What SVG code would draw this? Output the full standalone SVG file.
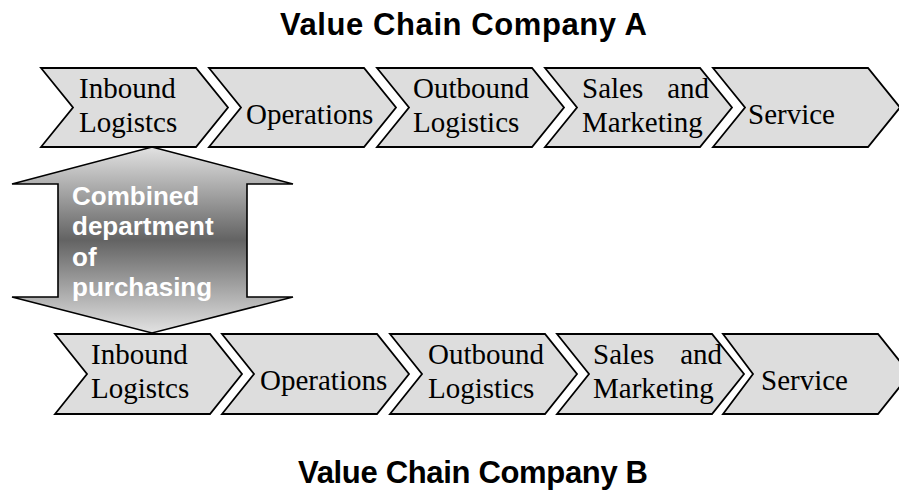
<svg xmlns="http://www.w3.org/2000/svg" width="899" height="490" viewBox="0 0 899 490">
<defs>
<style>
.chev{fill:#dddddd;stroke:#000;stroke-width:1.8;stroke-linejoin:miter}
.t{font-family:"Liberation Serif","Times New Roman",serif;font-size:29px;fill:#000}
.title{font-family:"Liberation Sans",Arial,sans-serif;font-size:31px;font-weight:bold;fill:#000}
.wt{font-family:"Liberation Sans",Arial,sans-serif;font-size:26px;font-weight:bold;fill:#fff}
</style>
<linearGradient id="g" x1="0" y1="0" x2="0" y2="1">
<stop offset="0" stop-color="#e2e2e2"/>
<stop offset="0.5" stop-color="#636363"/>
<stop offset="1" stop-color="#e2e2e2"/>
</linearGradient>
</defs>
<rect width="899" height="490" fill="#fff"/>
<text class="title" x="280" y="35" textLength="367" lengthAdjust="spacing">Value Chain Company A</text>
<text class="title" x="298" y="483" textLength="350" lengthAdjust="spacing">Value Chain Company B</text>

<g id="purchasing">
<polygon points="152,147 293,184 247,184 247,297 293,297 152,333 12,297 58,297 58,184 12,184" fill="url(#g)" stroke="#000" stroke-width="1.6"/>
<text class="wt" x="72" y="205">Combined</text>
<text class="wt" x="72" y="235">department</text>
<text class="wt" x="72" y="266">of</text>
<text class="wt" x="72" y="296">purchasing</text>
</g>

<g id="connectors"></g>

<g id="a-inbound">
<polygon class="chev" points="41,68 196,68 228,107.5 196,147 41,147 73,107.5"/>
<text class="t" x="79" y="98">Inbound</text>
<text class="t" x="79" y="132">Logistcs</text>
</g>
<g id="a-operations">
<polygon class="chev" points="209,68 364,68 396,107.5 364,147 209,147 241,107.5"/>
<text class="t" x="246" y="124">Operations</text>
</g>
<g id="a-outbound">
<polygon class="chev" points="377,68 532,68 564,107.5 532,147 377,147 409,107.5"/>
<text class="t" x="413" y="98">Outbound</text>
<text class="t" x="413" y="132">Logistics</text>
</g>
<g id="a-sales">
<polygon class="chev" points="545,68 700,68 732,107.5 700,147 545,147 577,107.5"/>
<text class="t" x="582" y="98">Sales</text>
<text class="t" x="709" y="98" text-anchor="end">and</text>
<text class="t" x="582" y="132">Marketing</text>
</g>
<g id="a-service">
<polygon class="chev" points="713,68 868,68 900,107.5 868,147 713,147 745,107.5"/>
<text class="t" x="748" y="124">Service</text>
</g>

<g id="b-inbound">
<polygon class="chev" points="55,334 210,334 242,374 210,414 55,414 87,374"/>
<text class="t" x="91" y="364">Inbound</text>
<text class="t" x="91" y="398">Logistcs</text>
</g>
<g id="b-operations">
<polygon class="chev" points="222,334 377,334 409,374 377,414 222,414 254,374"/>
<text class="t" x="260" y="390">Operations</text>
</g>
<g id="b-outbound">
<polygon class="chev" points="390,334 545,334 577,374 545,414 390,414 422,374"/>
<text class="t" x="428" y="364">Outbound</text>
<text class="t" x="428" y="398">Logistics</text>
</g>
<g id="b-sales">
<polygon class="chev" points="557,334 712,334 744,374 712,414 557,414 589,374"/>
<text class="t" x="593" y="364">Sales</text>
<text class="t" x="722" y="364" text-anchor="end">and</text>
<text class="t" x="593" y="398">Marketing</text>
</g>
<g id="b-service">
<polygon class="chev" points="723,334 878,334 910,374 878,414 723,414 753,374"/>
<text class="t" x="761" y="390">Service</text>
</g>
</svg>
